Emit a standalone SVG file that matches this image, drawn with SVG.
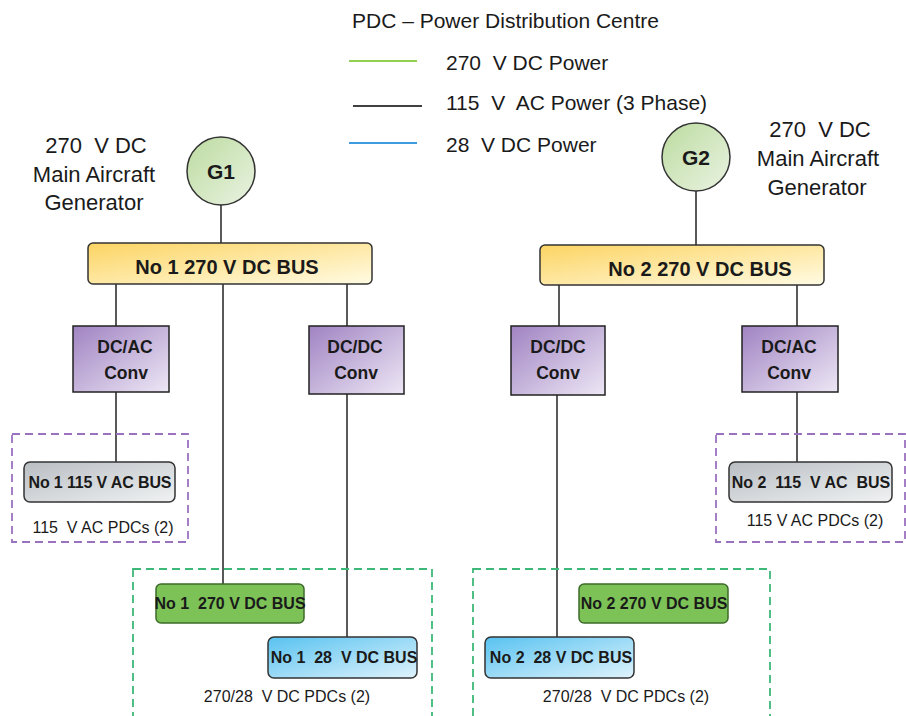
<svg xmlns="http://www.w3.org/2000/svg" width="906" height="716" viewBox="0 0 906 716">
<style>
text{font-family:"Liberation Sans",Arial,sans-serif;fill:#1a1a1a;white-space:pre}
.lg{font-size:21px}
.gl{font-size:22px;text-anchor:middle}
.b{font-weight:bold;text-anchor:middle}
.bus{font-size:20px}
.cv{font-size:17.5px}
.sb{font-size:16px}
.cap{font-size:16px;text-anchor:middle}
.wire{stroke:#222;stroke-width:1.5;fill:none}
.box{stroke:#222;stroke-width:1.5}
</style>
<defs>
<linearGradient id="gY" x1="0" y1="0" x2="1" y2="1"><stop offset="0" stop-color="#fcd463"/><stop offset="1" stop-color="#fffbe3"/></linearGradient>
<linearGradient id="gP" x1="0" y1="0" x2="1" y2="1"><stop offset="0" stop-color="#a083c2"/><stop offset="1" stop-color="#ede7f5"/></linearGradient>
<linearGradient id="gG" x1="0" y1="0" x2="1" y2="1"><stop offset="0" stop-color="#bcdba0"/><stop offset="1" stop-color="#eaf3e2"/></linearGradient>
<linearGradient id="gA" x1="0" y1="0" x2="1" y2="1"><stop offset="0" stop-color="#b9bec3"/><stop offset="1" stop-color="#f0f2f3"/></linearGradient>
<linearGradient id="gB" x1="0" y1="0" x2="1" y2="1"><stop offset="0" stop-color="#58c2f0"/><stop offset="1" stop-color="#dff3fc"/></linearGradient>
</defs>
<rect width="906" height="716" fill="#fff"/>

<g id="legend">
<text class="lg" x="352" y="28">PDC – Power Distribution Centre</text>
<line x1="349" y1="61" x2="417" y2="61" stroke="#92d050" stroke-width="2"/>
<text class="lg" x="446" y="70">270  V DC Power</text>
<line x1="353" y1="106" x2="422" y2="106" stroke="#404040" stroke-width="2"/>
<text class="lg" x="446" y="110">115  V  AC Power (3 Phase)</text>
<line x1="349" y1="143" x2="417" y2="143" stroke="#3d9be0" stroke-width="2"/>
<text class="lg" x="446" y="152">28  V DC Power</text>
</g>

<g id="labels">
<text class="gl" x="96" y="153">270  V DC</text>
<text class="gl" x="94" y="182">Main Aircraft</text>
<text class="gl" x="94" y="210">Generator</text>
<text class="gl" x="820" y="137">270  V DC</text>
<text class="gl" x="818" y="166">Main Aircraft</text>
<text class="gl" x="817" y="195">Generator</text>
</g>

<g id="connectors">
<line class="wire" x1="221" y1="205" x2="221" y2="243"/>
<line class="wire" x1="696" y1="191" x2="696" y2="245"/>
<line class="wire" x1="116" y1="284" x2="116" y2="326"/>
<line class="wire" x1="116" y1="392" x2="116" y2="462"/>
<line class="wire" x1="223" y1="284" x2="223" y2="584"/>
<line class="wire" x1="347" y1="284" x2="347" y2="326"/>
<line class="wire" x1="347" y1="394" x2="347" y2="637"/>
<line class="wire" x1="559" y1="285" x2="559" y2="326"/>
<line class="wire" x1="557" y1="395" x2="557" y2="637"/>
<line class="wire" x1="797" y1="285" x2="797" y2="326"/>
<line class="wire" x1="797" y1="392" x2="797" y2="462"/>
</g>

<g id="pdc-ac-1">
<rect x="12" y="434" width="176" height="108" fill="none" stroke="#9b72c0" stroke-width="1.8" stroke-dasharray="8,5"/>
<text class="cap" x="103" y="533">115  V AC PDCs (2)</text>
</g>
<g id="pdc-ac-2">
<rect x="716" y="434" width="189" height="108" fill="none" stroke="#9b72c0" stroke-width="1.8" stroke-dasharray="8,5"/>
<text class="cap" x="815" y="526">115 V AC PDCs (2)</text>
</g>
<g id="pdc-dc-1">
<rect x="133" y="569" width="299" height="160" fill="none" stroke="#3cb878" stroke-width="1.8" stroke-dasharray="8,5"/>
<text class="cap" x="287" y="702">270/28  V DC PDCs (2)</text>
</g>
<g id="pdc-dc-2">
<rect x="473" y="569" width="297" height="160" fill="none" stroke="#3cb878" stroke-width="1.8" stroke-dasharray="8,5"/>
<text class="cap" x="626" y="702">270/28  V DC PDCs (2)</text>
</g>

<g id="G1">
<circle cx="221" cy="171" r="34" fill="url(#gG)" stroke="#333" stroke-width="1.5"/>
<text class="b" x="221" y="179" font-size="21">G1</text>
</g>
<g id="G2">
<circle cx="696" cy="157" r="34" fill="url(#gG)" stroke="#333" stroke-width="1.5"/>
<text class="b" x="696" y="165" font-size="21">G2</text>
</g>

<g id="bus1">
<rect x="88" y="243" width="284" height="41" rx="5" fill="url(#gY)" stroke="#333" stroke-width="1.5"/>
<text class="b bus" x="227" y="274">No 1 270 V DC BUS</text>
</g>
<g id="bus2">
<rect x="540" y="245" width="284" height="40" rx="5" fill="url(#gY)" stroke="#333" stroke-width="1.5"/>
<text class="b bus" x="700" y="276">No 2 270 V DC BUS</text>
</g>

<g id="dcac1">
<rect class="box" x="73" y="326" width="96" height="66" fill="url(#gP)"/>
<text class="b cv" x="125" y="353">DC/AC</text>
<text class="b cv" x="126" y="379">Conv</text>
</g>
<g id="dcdc1">
<rect class="box" x="309" y="326" width="95" height="68" fill="url(#gP)"/>
<text class="b cv" x="355" y="353">DC/DC</text>
<text class="b cv" x="356" y="379">Conv</text>
</g>
<g id="dcdc2">
<rect class="box" x="511" y="326" width="94" height="69" fill="url(#gP)"/>
<text class="b cv" x="558" y="353">DC/DC</text>
<text class="b cv" x="558" y="379">Conv</text>
</g>
<g id="dcac2">
<rect class="box" x="742" y="326" width="96" height="66" fill="url(#gP)"/>
<text class="b cv" x="789" y="353">DC/AC</text>
<text class="b cv" x="789" y="379">Conv</text>
</g>

<g id="acbus1">
<rect x="24" y="462" width="151" height="40" rx="6" fill="url(#gA)" stroke="#333" stroke-width="1.5"/>
<text class="b sb" x="100" y="488" textLength="143">No 1 115 V AC BUS</text>
</g>
<g id="acbus2">
<rect x="729" y="462" width="163" height="40" rx="6" fill="url(#gA)" stroke="#333" stroke-width="1.5"/>
<text class="b sb" x="811" y="488">No 2  115  V AC  BUS</text>
</g>

<g id="dc270-1">
<rect x="156" y="584" width="148" height="39" rx="5" fill="#7dc257" stroke="#3d6b2a" stroke-width="1.5"/>
<text class="b sb" x="230" y="609">No 1  270 V DC BUS</text>
</g>
<g id="dc28-1">
<rect x="268" y="637" width="149" height="41" rx="6" fill="url(#gB)" stroke="#333" stroke-width="1.5"/>
<text class="b sb" x="344" y="663">No 1  28  V DC BUS</text>
</g>
<g id="dc270-2">
<rect x="579" y="584" width="149" height="39" rx="5" fill="#7dc257" stroke="#3d6b2a" stroke-width="1.5"/>
<text class="b sb" x="654" y="609">No 2 270 V DC BUS</text>
</g>
<g id="dc28-2">
<rect x="485" y="637" width="149" height="41" rx="6" fill="url(#gB)" stroke="#333" stroke-width="1.5"/>
<text class="b sb" x="561" y="663">No 2  28 V DC BUS</text>
</g>
</svg>
